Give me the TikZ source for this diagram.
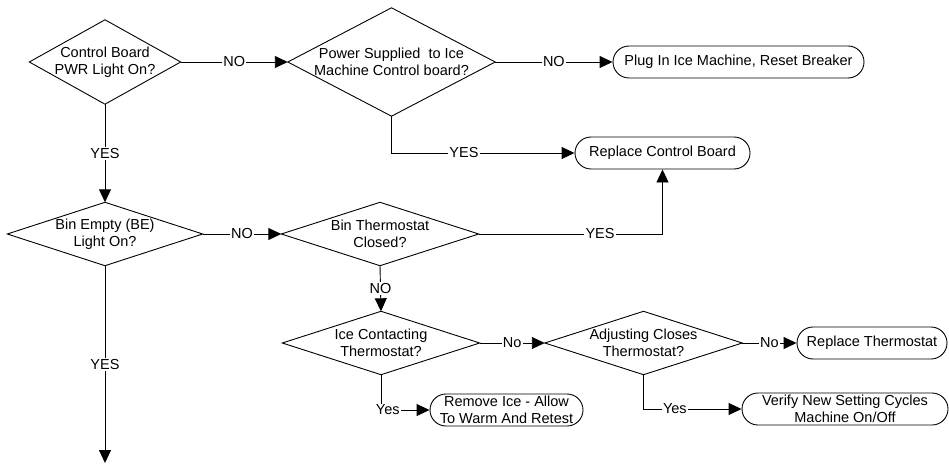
\documentclass[tikz,border=0pt]{standalone}
\usepackage{fontspec}
\setmainfont{Liberation Sans}
\usetikzlibrary{shapes.misc,arrows.meta}
\begin{document}
\begin{tikzpicture}[x=1pt,y=-1pt,
  every node/.style={font=\fontsize{14.5}{17}\selectfont, align=center, inner sep=0pt},
  dia/.style 2 args={minimum width=#1pt, minimum height=#2pt},
  endbox/.style={rounded rectangle, draw, line width=0.9pt, minimum height=32pt, minimum width=#1pt},
  lab/.style={fill=white, inner sep=1.2pt},
  conn/.style={line width=0.9pt, -{Triangle[length=13pt,width=12pt]}},
  dline/.style={line width=0.9pt, line join=miter}]
\useasboundingbox (0,0) rectangle (949,465);

% decisions
\node[dia={151}{84}]  (d1) at (105,62)  {Control Board\\PWR Light On?};
\node[dia={207}{108}] (d2) at (391.5,62) {Power Supplied\ \ to Ice\\Machine Control board?};
\node[dia={195}{63}]  (d3) at (105,234) {Bin Empty (BE)\\Light On?};
\node[dia={197}{63}]  (d4) at (380,234) {Bin Thermostat\\Closed?};
\node[dia={197}{63}]  (d5) at (381,343) {Ice Contacting\\Thermostat?};
\node[dia={197}{63}]  (d6) at (643.5,343) {Adjusting Closes\\Thermostat?};
\foreach \n in {d1,d2,d3,d4,d5,d6}
  \draw[dline] (\n.north)--(\n.east)--(\n.south)--(\n.west)--cycle;

% terminals
\node[endbox=251] (plug) at (738.5,62)  {Plug In Ice Machine, Reset Breaker};
\node[endbox=175] (rcb)  at (662.5,153) {Replace Control Board};
\node[endbox=153] (rib)  at (506.5,410) {Remove Ice - Allow\\To Warm And Retest};
\node[endbox=150] (rt)   at (872,343)   {Replace Thermostat};
\node[endbox=206] (vb)   at (845,409)   {Verify New Setting Cycles\\Machine On/Off};
\coordinate (fin) at (105,463);

% connectors
\draw[conn] (d1.east) -- node[lab] {NO} (d2.west);
\draw[conn] (d2.east) -- node[lab] {NO} (plug.west);
\draw[conn] (d2.south) |- node[lab,pos=0.698] {YES} (rcb.west);
\draw[conn] (d1.south) -- node[lab] {YES} (d3.north);
\draw[conn] (d3.east) -- node[lab] {NO} (d4.west);
\draw[conn] (d4.east) -| node[lab,pos=0.33] {YES} (rcb.south);
\draw[conn] (d4.south) -- node[lab] {NO} (d5.north);
\draw[conn] (d5.east) -- node[lab] {No} (d6.west);
\draw[conn] (d5.south) |- node[lab,pos=0.57] {Yes} (rib.west);
\draw[conn] (d6.east) -- node[lab] {No} (rt.west);
\draw[conn] (d6.south) |- node[lab,pos=0.66] {Yes} (vb.west);
\draw[conn] (d3.south) -- node[lab] {YES} (fin);
\end{tikzpicture}
\end{document}
